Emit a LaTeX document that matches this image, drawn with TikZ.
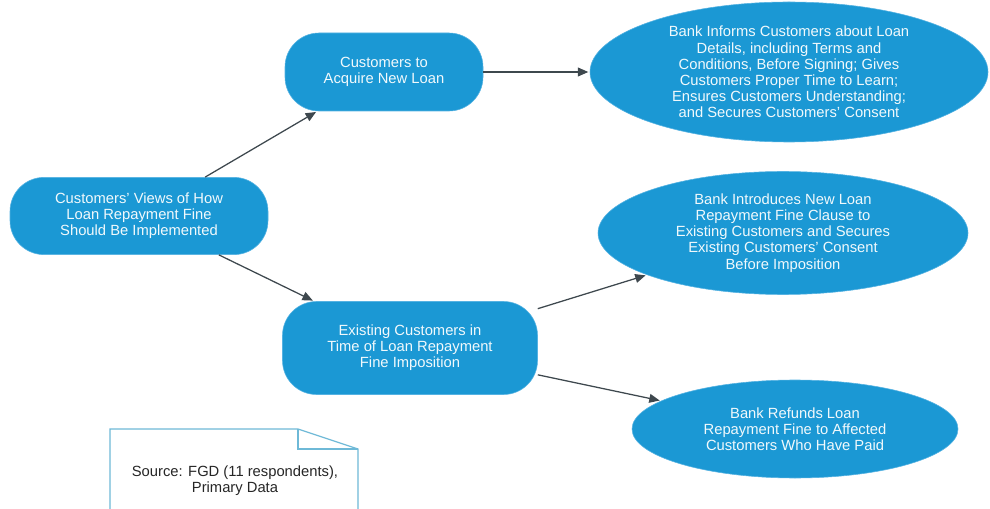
\documentclass[tikz,border=0pt]{standalone}
\usepackage{fontspec}
\setmainfont{Liberation Sans}
\usetikzlibrary{shapes.geometric,arrows.meta}
\definecolor{boxblue}{RGB}{27,152,212}
\definecolor{edgeblue}{RGB}{85,178,226}
\definecolor{linkgray}{RGB}{62,72,78}
\definecolor{noteblue}{RGB}{110,185,215}

\begin{document}
\begin{tikzpicture}[
  every node/.style={font=\fontsize{10.5}{11.5}\selectfont, align=center},
  rbox/.style={draw=edgeblue, fill=boxblue, text=white!94!boxblue, rounded corners=0.85cm, inner sep=2pt},
  oval/.style={ellipse, draw=edgeblue, fill=boxblue, text=white!94!boxblue, inner sep=0pt},
  link/.style={draw=linkgray, line width=0.9pt, -{Triangle[length=2.6mm,width=2.2mm]}, shorten >=1pt}
]
  \useasboundingbox (0,0) rectangle (24.75,12.7);
  \clip (0,0) rectangle (24.75,12.7);

  % rounded boxes
  \node[rbox, minimum width=6.45cm, minimum height=1.93cm] (views) at (3.475,7.3)
    {Customers' Views of How\\Loan Repayment Fine\\Should Be Implemented};
  \node[rbox, minimum width=4.95cm, minimum height=1.95cm] (acquire) at (9.6,10.9)
    {Customers to\\Acquire New Loan};
  \node[rbox, minimum width=6.375cm, minimum height=2.325cm] (existing) at (10.25,4.0)
    {Existing Customers in\\Time of Loan Repayment\\Fine Imposition};

  % ellipses on the right
  \node[oval, minimum width=9.95cm, minimum height=3.5cm] (inform) at (19.725,10.9)
    {Bank Informs Customers about Loan\\Details, including Terms and\\Conditions, Before Signing; Gives\\Customers Proper Time to Learn;\\Ensures Customers Understanding;\\and Secures Customers' Consent};
  \node[oval, minimum width=9.25cm, minimum height=3.075cm] (introduce) at (19.575,6.875)
    {Bank Introduces New Loan\\Repayment Fine Clause to\\Existing Customers and Secures\\Existing Customers' Consent\\Before Imposition};
  \node[oval, minimum width=8.15cm, minimum height=2.45cm] (refund) at (19.875,1.975)
    {Bank Refunds Loan\\Repayment Fine to Affected\\Customers Who Have Paid};

  % connectors
  \foreach \a/\b in {views/acquire, views/existing, acquire/inform, existing/introduce, existing/refund}
    \draw[link] (\a) -- (\b);

  % source note with folded corner
  \draw[noteblue, line width=0.8pt, fill=white] (2.75,-0.5) -- (2.75,1.975) -- (7.45,1.975) -- (8.95,1.475) -- (8.95,-0.5);
  \draw[noteblue, line width=0.8pt] (7.45,1.975) -- (7.45,1.475) -- (8.95,1.475);
  \node[text=black!85] (source) at (5.875,0.68) {Source: FGD (11 respondents),\\Primary Data};
\end{tikzpicture}
\end{document}
